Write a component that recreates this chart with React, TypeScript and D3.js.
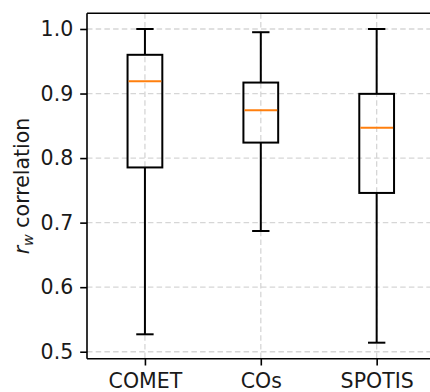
import React, { useRef, useEffect } from 'react'
import * as d3 from 'd3'

// Box statistics
const categories = ['COMET', 'COs', 'SPOTIS']
const whiskerLow = [0.527, 0.687, 0.514]
const q1 = [0.7855, 0.824, 0.746]
const median = [0.919, 0.874, 0.847]
const q3 = [0.960, 0.917, 0.8995]
const whiskerHigh = [1.0, 0.995, 1.0]
const yTicks = [0.5, 0.6, 0.7, 0.8, 0.9, 1.0]

const WIDTH = 430
const HEIGHT = 392
const FONT = 'DejaVu Sans, sans-serif'
const FONT_SIZE = '20.5px'

export default function App() {
  const svgRef = useRef<SVGSVGElement>(null)

  useEffect(() => {
    if (!svgRef.current) return
    const svg = d3.select(svgRef.current)
    svg.selectAll('*').remove()

    const left = 87
    const right = 434.6
    const top = 13.3
    const bottom = 358.7

    const x = d3.scalePoint<string>().domain(categories).range([left, right]).padding(0.5)
    const y = d3.scaleLinear().domain([0.4892, 1.0243]).range([bottom, top])
    const step = x.step()
    const boxW = step * 0.3
    const capW = boxW / 2

    // grid
    const grid = svg.append('g')
      .attr('stroke', '#d6d6d6')
      .attr('stroke-width', 1.3)
      .attr('stroke-dasharray', '5.5,3.2')
    grid.selectAll('.gy').data(yTicks).enter().append('line')
      .attr('x1', left).attr('x2', right)
      .attr('y1', d => y(d)).attr('y2', d => y(d))
    grid.selectAll('.gx').data(categories).enter().append('line')
      .attr('x1', d => x(d)!).attr('x2', d => x(d)!)
      .attr('y1', top).attr('y2', bottom)

    // boxes
    const boxes = svg.append('g')
    categories.forEach((c, i) => {
      const cx = x(c)!
      const g = boxes.append('g').attr('stroke', '#000').attr('stroke-width', 2).attr('fill', 'none')
      g.append('line').attr('x1', cx).attr('x2', cx).attr('y1', y(whiskerLow[i])).attr('y2', y(q1[i]))
      g.append('line').attr('x1', cx).attr('x2', cx).attr('y1', y(q3[i])).attr('y2', y(whiskerHigh[i]))
      g.append('line').attr('x1', cx - capW / 2).attr('x2', cx + capW / 2)
        .attr('y1', y(whiskerLow[i])).attr('y2', y(whiskerLow[i]))
      g.append('line').attr('x1', cx - capW / 2).attr('x2', cx + capW / 2)
        .attr('y1', y(whiskerHigh[i])).attr('y2', y(whiskerHigh[i]))
      g.append('rect')
        .attr('x', cx - boxW / 2).attr('width', boxW)
        .attr('y', y(q3[i])).attr('height', y(q1[i]) - y(q3[i]))
      g.append('line').attr('stroke', '#ff7f0e')
        .attr('x1', cx - boxW / 2 + 1).attr('x2', cx + boxW / 2 - 1)
        .attr('y1', y(median[i])).attr('y2', y(median[i]))
    })

    // axes
    const yAxis = svg.append('g')
      .attr('transform', `translate(${left},0)`)
      .call(d3.axisLeft(y).tickValues(yTicks).tickFormat(d3.format('.1f')).tickSize(6.8).tickPadding(7))
    yAxis.select('.domain').remove()
    yAxis.selectAll('line').attr('stroke', '#000').attr('stroke-width', 1.6)
    yAxis.selectAll('text').style('font-size', FONT_SIZE).style('font-family', FONT).attr('fill', '#1a1a1a')

    const xAxis = svg.append('g')
      .attr('transform', `translate(0,${bottom})`)
      .call(d3.axisBottom(x).tickSize(6.8).tickPadding(7.8))
    xAxis.select('.domain').remove()
    xAxis.selectAll('line').attr('stroke', '#000').attr('stroke-width', 1.6)
    xAxis.selectAll('text').style('font-size', FONT_SIZE).style('font-family', FONT).attr('fill', '#1a1a1a')

    // spines
    const spines = svg.append('g').attr('stroke', '#000').attr('stroke-width', 1.6)
    spines.append('line').attr('x1', left).attr('x2', left).attr('y1', top).attr('y2', bottom)
    spines.append('line').attr('x1', left).attr('x2', right).attr('y1', bottom).attr('y2', bottom)
    spines.append('line').attr('x1', left).attr('x2', right).attr('y1', top).attr('y2', top)

    // y label
    const label = svg.append('text')
      .attr('transform', `translate(28.5,${(top + bottom) / 2}) rotate(-90)`)
      .attr('text-anchor', 'middle')
      .style('font-size', FONT_SIZE)
      .style('font-family', FONT)
      .attr('fill', '#1a1a1a')
    label.append('tspan').style('font-style', 'italic').text('r')
    label.append('tspan').style('font-style', 'italic').style('font-size', '14.3px').attr('dy', 4.2).text('w')
    label.append('tspan').attr('dy', -4.2).text(' correlation')
  }, [])

  return (
    <div style={{ position: 'fixed', left: 0, top: 0 }}>
      <svg ref={svgRef} width={WIDTH} height={HEIGHT} style={{ display: 'block', background: '#fff' }} />
    </div>
  )
}
